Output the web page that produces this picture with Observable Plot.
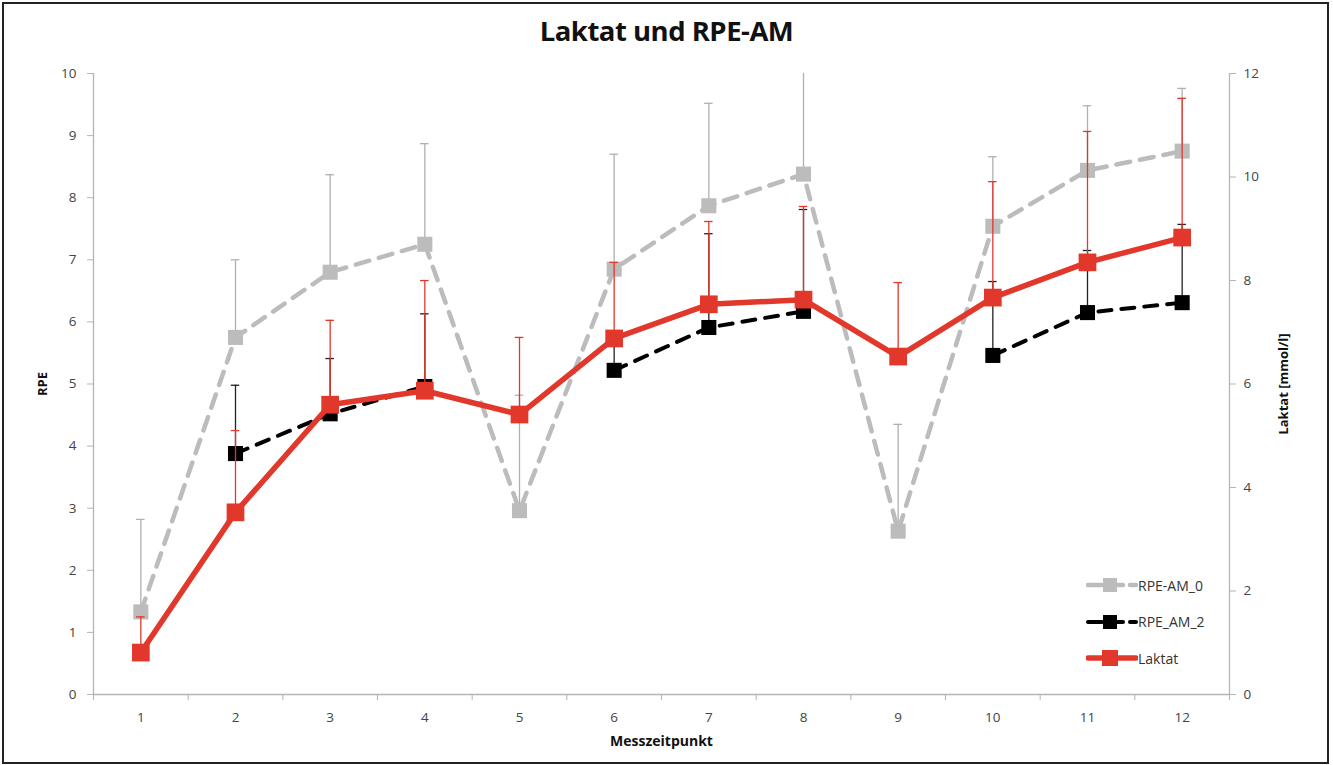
<!DOCTYPE html>
<html>
<head>
<meta charset="utf-8">
<script src="https://cdn.jsdelivr.net/npm/d3@7"></script>
<script src="https://cdn.jsdelivr.net/npm/@observablehq/plot@0.6"></script>
<style>
  html, body { margin: 0; padding: 0; background: #fff; }
  #wrap { position: relative; width: 1333px; height: 765px; overflow: hidden; font-family: "Open Sans", sans-serif; }
  #frame { position: absolute; left: 2px; top: 2px; width: 1323px; height: 758px; border: 2px solid #222; }
  #title { position: absolute; left: 0; top: 12px; width: 1333px; text-align: center; font-size: 27.5px; font-weight: bold; color: #111; letter-spacing: -0.5px; }
  #chart { position: absolute; left: 0; top: 50px; }
  #legend { position: absolute; left: 1086px; top: 567px; font-size: 14px; color: #333; }
  .li { display: flex; align-items: center; height: 36.5px; }
  .li svg { display: block; }
</style>
</head>
<body>
<div id="wrap">
  <div id="frame"></div>
  <div id="title">Laktat und RPE-AM</div>
  <div id="chart"></div>
  <div id="legend"></div>
</div>
<script>
// Categories (Messzeitpunkt)
const zeitpunkte = [1, 2, 3, 4, 5, 6, 7, 8, 9, 10, 11, 12];
// RPE-AM_0 (left axis, RPE) with upper error (SD)
const rpeAm0   = [1.33, 5.75, 6.80, 7.25, 2.96, 6.85, 7.87, 8.38, 2.63, 7.54, 8.44, 8.75];
const rpeAm0Sd = [1.49, 1.25, 1.57, 1.62, 1.86, 1.85, 1.65, 1.75, 1.72, 1.12, 1.04, 1.01];
// RPE_AM_2 (left axis, RPE)
const rpeAm2   = [null, 3.88, 4.52, 4.96, null, 5.22, 5.91, 6.17, null, 5.46, 6.15, 6.31];
const rpeAm2Sd = [null, 1.10, 0.89, 1.17, null, 0.50, 1.51, 1.64, null, 1.19, 1.00, 1.26];
// Laktat (right axis, mmol/l)
const laktat   = [0.81, 3.52, 5.60, 5.87, 5.41, 6.88, 7.54, 7.63, 6.53, 7.67, 8.35, 8.83];
const laktatSd = [0.69, 1.58, 1.63, 2.13, 1.49, 1.47, 1.60, 1.80, 1.43, 2.24, 2.53, 2.69];
// Tick labels
const rpeTicks = [0, 1, 2, 3, 4, 5, 6, 7, 8, 9, 10];
const laktatTicks = [0, 2, 4, 6, 8, 10, 12];

const RPE_MAX = 10, LAK_MAX = 12;
const lakToRpe = v => v * RPE_MAX / LAK_MAX;

const GRAY = "#bcbcbc", GRAY_ERR = "#b0b0b0", BLACK = "#000", RED = "#e2372b";

const rows = zeitpunkte.map((t, i) => ({
  t,
  r0: rpeAm0[i], r0top: rpeAm0[i] + rpeAm0Sd[i],
  r2: rpeAm2[i], r2top: rpeAm2[i] == null ? null : rpeAm2[i] + rpeAm2Sd[i],
  lak: laktat[i], laktop: laktat[i] + laktatSd[i]
}));
const r2rows = rows.filter(d => d.r2 != null);

const cap = 0.045; // half-width of error-bar caps, in category units
const boundaries = d3.range(0.5, 13, 1);
const AX = "#b5b5b5";

const chart = Plot.plot({
  width: 1333,
  height: 715,
  marginTop: 23,
  marginBottom: 71,
  marginLeft: 93,
  marginRight: 104,
  style: { fontFamily: "Open Sans, sans-serif", fontSize: "13px", color: "#444", background: "transparent" },
  x: { type: "linear", domain: [0.5, 12.5], axis: null },
  y: { type: "linear", domain: [0, RPE_MAX], axis: null },
  marks: [
    // axes lines
    Plot.ruleX([0.5, 12.5], { y1: 0, y2: RPE_MAX, stroke: AX, strokeWidth: 1.3 }),
    Plot.ruleY([0], { stroke: AX, strokeWidth: 1.3 }),
    // left axis
    Plot.axisY(rpeTicks, { anchor: "left", tickSize: 6, tickPadding: 11, stroke: AX, fill: "#444", fontSize: 13.5, tickFormat: d => String(d), label: null }),
    // right axis (Laktat)
    Plot.axisY(laktatTicks.map(lakToRpe), { anchor: "right", tickSize: 6, tickPadding: 8, stroke: AX, fill: "#444", fontSize: 13.5, tickFormat: d => String(Math.round(d * LAK_MAX / RPE_MAX)), label: null }),
    // bottom axis: boundary ticks and category labels
    Plot.axisX(boundaries, { anchor: "bottom", tickSize: 6, tickFormat: () => "", stroke: AX, label: null }),
    Plot.axisX(zeitpunkte, { anchor: "bottom", tickSize: 0, tickPadding: 18, fill: "#444", fontSize: 13.5, tickFormat: d => String(d), label: null }),
    // axis titles
    Plot.text(["RPE"], { frameAnchor: "left", dx: -51, rotate: -90, textAnchor: "middle", fontWeight: "bold", fontSize: 13, fill: "#111" }),
    Plot.text(["Laktat [mmol/l]"], { frameAnchor: "right", dx: 54, rotate: -90, textAnchor: "middle", fontWeight: "bold", fontSize: 13, fill: "#111" }),
    Plot.text(["Messzeitpunkt"], { frameAnchor: "bottom", dy: 51, textAnchor: "middle", fontWeight: "bold", fontSize: 14, fill: "#111" }),

    // RPE-AM_0 (gray)
    Plot.ruleX(rows, { x: "t", y1: "r0", y2: "r0top", stroke: GRAY_ERR, strokeWidth: 1.3, clip: true }),
    Plot.ruleY(rows, { y: "r0top", x1: d => d.t - cap, x2: d => d.t + cap, stroke: GRAY_ERR, strokeWidth: 1.3, clip: true }),
    Plot.line(rows, { x: "t", y: "r0", stroke: GRAY, strokeWidth: 4.5, strokeDasharray: "14,10", strokeLinecap: "round" }),
    Plot.dot(rows, { x: "t", y: "r0", symbol: "square", r: 8.5, fill: GRAY, stroke: "none" }),

    // RPE_AM_2 (black)
    Plot.ruleX(r2rows, { x: "t", y1: "r2", y2: "r2top", stroke: "#222", strokeWidth: 1.3 }),
    Plot.ruleY(r2rows, { y: "r2top", x1: d => d.t - cap, x2: d => d.t + cap, stroke: "#222", strokeWidth: 1.3 }),
    Plot.line(rows, { x: "t", y: "r2", defined: d => d.r2 != null, stroke: BLACK, strokeWidth: 4, strokeDasharray: "13,10", strokeLinecap: "round" }),
    Plot.dot(r2rows, { x: "t", y: "r2", symbol: "square", r: 8.5, fill: BLACK, stroke: "none" }),

    // Laktat (red)
    Plot.line(rows, { x: "t", y: d => lakToRpe(d.lak), stroke: RED, strokeWidth: 5.5, strokeLinejoin: "round" }),
    Plot.ruleX(rows, { x: "t", y1: d => lakToRpe(d.lak), y2: d => lakToRpe(d.laktop), stroke: RED, strokeWidth: 1.3 }),
    Plot.ruleY(rows, { y: d => lakToRpe(d.laktop), x1: d => d.t - cap, x2: d => d.t + cap, stroke: RED, strokeWidth: 1.3 }),
    Plot.dot(rows, { x: "t", y: d => lakToRpe(d.lak), symbol: "square", r: 10, fill: RED, stroke: "none" })
  ]
});
document.getElementById("chart").appendChild(chart);

// Legend (HTML)
const legendItems = [
  { name: "RPE-AM_0", color: GRAY, dash: "14,7", w: 4.5, size: 14 },
  { name: "RPE_AM_2", color: BLACK, dash: "14,7", w: 4, size: 14 },
  { name: "Laktat", color: RED, dash: null, w: 5.5, size: 16 }
];
const leg = document.getElementById("legend");
legendItems.forEach(it => {
  const div = document.createElement("div");
  div.className = "li";
  const s = it.size;
  div.innerHTML = `<svg width="52" height="20" viewBox="0 0 52 20">
    <line x1="2" y1="10" x2="50" y2="10" stroke="${it.color}" stroke-width="${it.w}" ${it.dash ? `stroke-dasharray="${it.dash}"` : ""} stroke-linecap="round"/>
    <rect x="${24 - s / 2}" y="${10 - s / 2}" width="${s}" height="${s}" fill="${it.color}"/>
  </svg><span>${it.name}</span>`;
  leg.appendChild(div);
});
</script>
</body>
</html>
